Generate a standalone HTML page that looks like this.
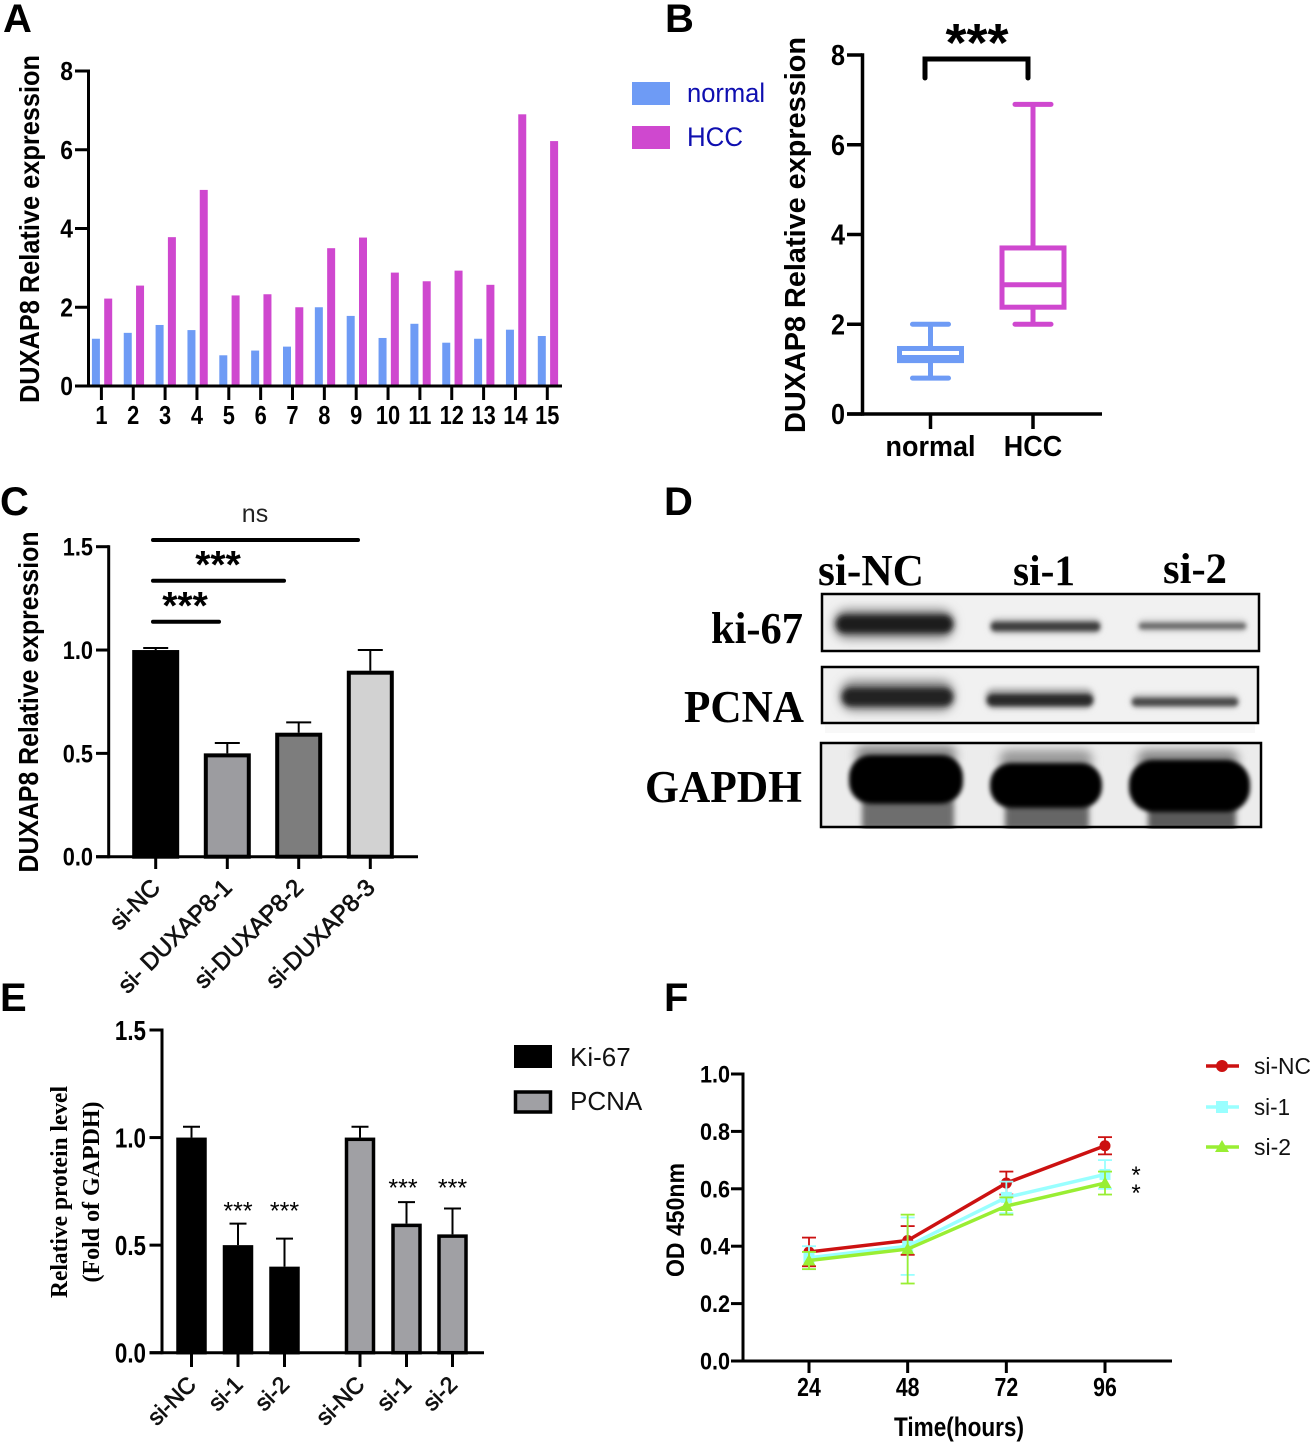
<!DOCTYPE html>
<html lang="en">
<head>
<meta charset="utf-8">
<title>DUXAP8 expression figure</title>
<style>
html,body{margin:0;padding:0;background:#fff;width:1314px;height:1442px;overflow:hidden}
svg{display:block}
text{font-family:"Liberation Sans",sans-serif}
.serif{font-family:"Liberation Serif",serif;font-weight:bold}
.panel{font-size:40px;font-weight:bold}
.ytitle{font-weight:bold}
</style>
</head>
<body>
<svg id="fig" width="1314" height="1442" viewBox="0 0 1314 1442" xmlns="http://www.w3.org/2000/svg">
<defs>
<filter id="b2" x="-20%" y="-200%" width="140%" height="500%"><feGaussianBlur stdDeviation="3"/></filter>
<filter id="b1" x="-20%" y="-200%" width="140%" height="500%"><feGaussianBlur stdDeviation="2"/></filter>
<filter id="b4" x="-20%" y="-200%" width="140%" height="500%"><feGaussianBlur stdDeviation="5"/></filter>
<clipPath id="gapdh-clip"><rect x="821" y="743" width="440" height="86"/></clipPath>
</defs>
<text class="panel" x="3" y="32">A</text>
<text class="panel" x="665" y="32">B</text>
<text class="panel" x="0" y="515">C</text>
<text class="panel" x="664" y="515">D</text>
<text class="panel" x="0" y="1011">E</text>
<text class="panel" x="664" y="1011">F</text>

<text class="ytitle" font-size="28" text-anchor="middle" transform="translate(39,229) rotate(-90)" textLength="348" lengthAdjust="spacingAndGlyphs">DUXAP8 Relative expression</text>
<text class="ytitle" font-size="29" text-anchor="middle" transform="translate(805,235) rotate(-90)" textLength="396" lengthAdjust="spacingAndGlyphs">DUXAP8 Relative expression</text>
<text class="ytitle" font-size="28" text-anchor="middle" transform="translate(38,702) rotate(-90)" textLength="341" lengthAdjust="spacingAndGlyphs">DUXAP8 Relative expression</text>
<text class="serif" font-size="24" text-anchor="middle" transform="translate(67,1192) rotate(-90)" textLength="212" lengthAdjust="spacingAndGlyphs">Relative protein level</text>
<text class="serif" font-size="24" text-anchor="middle" transform="translate(99,1192) rotate(-90)" textLength="181" lengthAdjust="spacingAndGlyphs">(Fold of GAPDH)</text>
<text class="ytitle" font-size="25" text-anchor="middle" transform="translate(684,1220) rotate(-90)" textLength="114" lengthAdjust="spacingAndGlyphs">OD 450nm</text>
<text class="ytitle" font-size="27" text-anchor="middle" x="959" y="1436" textLength="130" lengthAdjust="spacingAndGlyphs">Time(hours)</text>

<g>
<rect x="632" y="82" width="38" height="23" fill="#6e9bf5"/>
<text x="687" y="102" font-size="27" fill="#0f0fb0" textLength="78" lengthAdjust="spacingAndGlyphs">normal</text>
<rect x="632" y="126" width="38" height="23" fill="#cf48cf"/>
<text x="687" y="146" font-size="27" fill="#0f0fb0" textLength="56" lengthAdjust="spacingAndGlyphs">HCC</text>
</g>

<g>
<g>
<rect x="822" y="594" width="437" height="57" fill="#f1f1f1"/>
<rect x="834" y="609" width="120" height="30" rx="13" fill="#888" filter="url(#b4)"/>
<rect x="836" y="615" width="117" height="18" rx="9" fill="#1c1c1c" filter="url(#b2)"/>
<rect x="990" y="618" width="111" height="16" rx="7" fill="#bbb" filter="url(#b2)"/>
<rect x="991" y="622" width="109" height="9" rx="4" fill="#3c3c3c" filter="url(#b1)"/>
<rect x="1138" y="619" width="109" height="13" rx="6" fill="#ccc" filter="url(#b2)"/>
<rect x="1139" y="623" width="107" height="6" rx="3" fill="#666" filter="url(#b1)"/>
<rect x="822" y="594" width="437" height="57" fill="none" stroke="#000" stroke-width="2.5"/>
</g>
<g>
<rect x="825" y="725" width="430" height="8" fill="#f8f8f8"/>
<rect x="822" y="667" width="436" height="56" fill="#f1f1f1"/>
<rect x="840" y="680" width="114" height="31" rx="13" fill="#888" filter="url(#b4)"/>
<rect x="842" y="688" width="111" height="18" rx="9" fill="#222" filter="url(#b2)"/>
<rect x="985" y="688" width="109" height="21" rx="9" fill="#aaa" filter="url(#b2)"/>
<rect x="987" y="694" width="106" height="12" rx="6" fill="#2c2c2c" filter="url(#b1)"/>
<rect x="1131" y="694" width="108" height="14" rx="6" fill="#bbb" filter="url(#b2)"/>
<rect x="1132" y="698" width="106" height="8" rx="4" fill="#484848" filter="url(#b1)"/>
<rect x="822" y="667" width="436" height="56" fill="none" stroke="#000" stroke-width="2.5"/>
</g>
<g>
<rect x="821" y="743" width="440" height="84" fill="#ececec"/>
<g clip-path="url(#gapdh-clip)">
<rect x="862" y="800" width="92" height="30" fill="#6e6e6e" filter="url(#b2)"/>
<rect x="1005" y="803" width="84" height="27" fill="#666" filter="url(#b2)"/>
<rect x="1148" y="806" width="88" height="24" fill="#5a5a5a" filter="url(#b2)"/>
<rect x="856" y="745" width="100" height="22" rx="8" fill="#8a8a8a" filter="url(#b4)"/>
<rect x="1000" y="750" width="92" height="22" rx="8" fill="#999" filter="url(#b4)"/>
<rect x="1138" y="750" width="100" height="22" rx="8" fill="#888" filter="url(#b4)"/>
<rect x="849" y="755" width="114" height="49" rx="22" fill="#000" filter="url(#b1)"/>
<rect x="990" y="763" width="112" height="45" rx="21" fill="#000" filter="url(#b1)"/>
<rect x="1129" y="760" width="121" height="52" rx="24" fill="#000" filter="url(#b1)"/>
</g>
<rect x="821" y="743" width="440" height="84" fill="none" stroke="#000" stroke-width="2.5"/>
</g>
<text class="serif" x="818" y="585" font-size="44" textLength="106" lengthAdjust="spacingAndGlyphs">si-NC</text>
<text class="serif" x="1013" y="585" font-size="43" textLength="62" lengthAdjust="spacingAndGlyphs">si-1</text>
<text class="serif" x="1163" y="583" font-size="43" textLength="64" lengthAdjust="spacingAndGlyphs">si-2</text>
<text class="serif" x="711" y="643" font-size="44" textLength="92" lengthAdjust="spacingAndGlyphs">ki-67</text>
<text class="serif" x="684" y="722" font-size="45" textLength="120" lengthAdjust="spacingAndGlyphs">PCNA</text>
<text class="serif" x="645" y="802" font-size="45" textLength="157" lengthAdjust="spacingAndGlyphs">GAPDH</text>
</g>

<g>
<rect x="514" y="1045" width="38" height="23" fill="#000"/>
<text x="570" y="1066" font-size="26" fill="#111">Ki-67</text>
<rect x="515.500" y="1092" width="35" height="20" fill="#a0a0a4" stroke="#000" stroke-width="3.500"/>
<text x="570" y="1110" font-size="26" fill="#111">PCNA</text>
</g>
<g>
<line x1="1206" x2="1239" y1="1066" y2="1066" stroke="#cc1111" stroke-width="3.500"/>
<circle cx="1222" cy="1066" r="6" fill="#cc1111"/>
<text x="1254" y="1074" font-size="23" fill="#111" textLength="57" lengthAdjust="spacingAndGlyphs">si-NC</text>
<line x1="1206" x2="1239" y1="1107" y2="1107" stroke="#99ffff" stroke-width="3.500"/>
<rect x="1216" y="1101" width="12" height="12" fill="#99ffff"/>
<text x="1254" y="1115" font-size="23" fill="#111" textLength="36" lengthAdjust="spacingAndGlyphs">si-1</text>
<line x1="1206" x2="1239" y1="1147" y2="1147" stroke="#99ee33" stroke-width="3.500"/>
<polygon points="1222,1140 1229,1152 1215,1152" fill="#99ee33"/>
<text x="1254" y="1155" font-size="23" fill="#111" textLength="37" lengthAdjust="spacingAndGlyphs">si-2</text>
</g>
<g id="charts"></g>
</svg>
<script>
// Panel A
const aCategories = ['1','2','3','4','5','6','7','8','9','10','11','12','13','14','15'];
const aNormal = [1.2,1.35,1.55,1.42,0.78,0.9,1.0,2.0,1.78,1.22,1.58,1.1,1.2,1.43,1.27];
const aHCC = [2.22,2.55,3.78,4.98,2.3,2.33,2.0,3.5,3.77,2.88,2.66,2.93,2.57,6.9,6.22];
const aYTicks = [0,2,4,6,8];
// Panel B
const bCategories = ['normal','HCC'];
const bMin = [0.8,2.0];
const bQ1 = [1.19,2.38];
const bMedian = [1.26,2.88];
const bQ3 = [1.46,3.7];
const bMax = [2.0,6.9];
const bYTicks = [0,2,4,6,8];
// Panel C
const cCategories = ['si-NC','si- DUXAP8-1','si-DUXAP8-2','si-DUXAP8-3'];
const cValues = [1.0,0.5,0.6,0.9];
const cErrors = [0.01,0.05,0.05,0.1];
const cFills = ['#000000','#9c9ca0','#7d7d7d','#d2d2d2'];
const cYTicks = ['0.0','0.5','1.0','1.5'];
// Panel E
const eCategories = ['si-NC','si-1','si-2','si-NC','si-1','si-2'];
const eValues = [1.0,0.5,0.4,1.0,0.6,0.55];
const eErrors = [0.05,0.1,0.13,0.05,0.1,0.12];
const eStars = ['','***','***','','***','***'];
const eStarLevels = [0,0.62,0.62,0,0.727,0.727];
const eYTicks = ['0.0','0.5','1.0','1.5'];
// Panel F
const fTimes = [24,48,72,96];
const fSiNC = [0.38,0.42,0.62,0.75];
const fSiNCErr = [0.05,0.05,0.04,0.03];
const fSi1 = [0.36,0.40,0.57,0.65];
const fSi1Err = [0.04,0.10,0.055,0.05];
const fSi2 = [0.35,0.39,0.54,0.62];
const fSi2Err = [0.03,0.12,0.03,0.04];
const fYTicks = ['0.0','0.2','0.4','0.6','0.8','1.0'];

const NS = 'http://www.w3.org/2000/svg';
const root = document.getElementById('charts');
function mk(parent, tag, name, attrs, txt){
  const el = document.createElementNS(NS, tag);
  
  
  for (const k in attrs) el.setAttribute(k, attrs[k]);
  if (txt !== undefined) el.textContent = txt;
  parent.appendChild(el);
  return el;
}
function group(name){ return mk(root, 'g', name, {}); }
function line(p, name, x1, y1, x2, y2, color, w, cap){
  return mk(p, 'line', name, {x1:x1, y1:y1, x2:x2, y2:y2, stroke:color, 'stroke-width':w, 'stroke-linecap':cap||'butt'});
}
function label(p, name, x, y, str, size, anchor, bold, sx, fill){
  return mk(p, 'text', name, {transform:'translate('+x+','+y+') scale('+(sx||1)+',1)', 'font-size':size, 'text-anchor':anchor||'middle', 'font-weight':bold?'bold':'normal', fill:fill||'#000'}, str);
}
function rotLabel(p, name, x, y, str, size){
  return mk(p, 'text', name, {transform:'translate('+x+','+y+') rotate(-45)', 'font-size':size, 'text-anchor':'end', fill:'#111', stroke:'#111', 'stroke-width':0.7}, str);
}
function scale(d0, d1, r0, r1){ return v => r0 + (v - d0) * (r1 - r0) / (d1 - d0); }
function axes(p, prefix, x0, xL, xEnd, y0, yTop, w){
  line(p, prefix+'-y-axis', x0, yTop - w/2, x0, y0 + w/2, '#000', w);
  line(p, prefix+'-x-axis', xL, y0, xEnd, y0, '#000', w);
}

// ---- Panel A ----
(function(){
  const g = group('panel-a-bar-chart');
  const y = scale(0, 8, 386, 71);
  const x = scale(0, aCategories.length - 1, 101.4, 547.3);
  aCategories.forEach((c,i)=>{
    const cx = x(i);
    mk(g,'rect','bar-normal-'+c,{x:cx-9.5,y:y(aNormal[i]),width:8,height:y(0)-y(aNormal[i]),fill:'#6e9bf5'});
    mk(g,'rect','bar-hcc-'+c,{x:cx+2.8,y:y(aHCC[i]),width:8,height:y(0)-y(aHCC[i]),fill:'#cf48cf'});
    line(g,'x-tick-'+c,cx,386,cx,400,'#000',3);
    label(g,'x-tick-label-'+c,cx,424,c,26,'middle',true,0.84);
  });
  aYTicks.forEach(t=>{
    line(g,'y-tick-'+t,75,y(t),89,y(t),'#000',3);
    label(g,'y-tick-label-'+t,73,y(t)+9,String(t),26,'end',true,0.88);
  });
  axes(g,'a',88.5,75,562,386,71,3);
})();

// ---- Panel B ----
(function(){
  const g = group('panel-b-box-plot');
  const y = scale(0, 8, 414, 55);
  const xs = [930.5, 1033];
  const colors = ['#6e9bf5','#cf48cf'];
  bCategories.forEach((c,i)=>{
    const cx = xs[i], col = colors[i];
    line(g,'whisker-'+c,cx,y(bMax[i]),cx,y(bQ3[i]),col,5);
    line(g,'whisker-low-'+c,cx,y(bQ1[i]),cx,y(bMin[i]),col,5);
    line(g,'cap-max-'+c,cx-18,y(bMax[i]),cx+18,y(bMax[i]),col,5,'round');
    line(g,'cap-min-'+c,cx-18,y(bMin[i]),cx+18,y(bMin[i]),col,5,'round');
    mk(g,'rect','box-'+c,{x:cx-31,y:y(bQ3[i]),width:62,height:y(bQ1[i])-y(bQ3[i]),fill:'#fff',stroke:col,'stroke-width':5});
    line(g,'median-'+c,cx-31,y(bMedian[i]),cx+31,y(bMedian[i]),col,5);
    line(g,'x-tick-'+c,cx,414,cx,429,'#000',3.5);
    label(g,'x-tick-label-'+c,cx,456,c,29,'middle',true,0.93);
  });
  bYTicks.forEach(t=>{
    line(g,'y-tick-'+t,847,y(t),862,y(t),'#000',3.5);
    label(g,'y-tick-label-'+t,845,y(t)+10,String(t),29,'end',true,0.87);
  });
  axes(g,'b',862.5,847,1102,414,55,3.5);
  mk(g,'path','significance-bracket',{d:'M925 78 V59 H1028 V78',fill:'none',stroke:'#000','stroke-width':5,'stroke-linecap':'round'});
  label(g,'significance-stars',977,61,'***',54,'middle',true);
})();

// ---- Panel C ----
(function(){
  const g = group('panel-c-bar-chart');
  const y = scale(0, 1.5, 856.7, 546.7);
  const xs = [155.7, 227.3, 298.7, 370.3];
  cCategories.forEach((c,i)=>{
    const cx = xs[i], v = cValues[i], e = cErrors[i];
    line(g,'error-stem-'+i,cx,y(v),cx,y(v+e),'#000',2);
    line(g,'error-cap-'+i,cx-12.5,y(v+e),cx+12.5,y(v+e),'#000',2);
    mk(g,'rect','bar-'+i,{x:cx-21.5,y:y(v)+2,width:43,height:y(0)-y(v)-2,fill:cFills[i],stroke:'#000','stroke-width':4});
    line(g,'x-tick-'+i,cx,857,cx,869,'#000',3);
    rotLabel(g,'x-tick-label-'+i,cx+6,889,c,24);
  });
  cYTicks.forEach(t=>{
    const yy = y(parseFloat(t));
    line(g,'y-tick-'+t,96,yy,109,yy,'#000',3);
    label(g,'y-tick-label-'+t,93,yy+9,t,25,'end',true,0.87);
  });
  axes(g,'c',108.7,96,418,856.7,546.7,3);
  line(g,'sig-line-ns',153,540,358,540,'#000',4,'round');
  line(g,'sig-line-2',153,580.7,284,580.7,'#000',4,'round');
  line(g,'sig-line-1',153,621.7,219,621.7,'#000',4,'round');
  label(g,'sig-ns',255,522,'ns',25,'middle',false,1,'#222');
  label(g,'sig-stars-2',218,578,'***',39,'middle',true);
  label(g,'sig-stars-1',185,619,'***',39,'middle',true);
})();

// ---- Panel E ----
(function(){
  const g = group('panel-e-bar-chart');
  const y = scale(0, 1.5, 1352.7, 1030);
  const xs = [191.5, 238, 284.5, 360, 406.5, 452.5];
  eCategories.forEach((c,i)=>{
    const cx = xs[i], v = eValues[i], e = eErrors[i];
    const grey = i > 2;
    line(g,'error-stem-'+i,cx,y(v),cx,y(v+e),'#000',2);
    line(g,'error-cap-'+i,cx-8.5,y(v+e),cx+8.5,y(v+e),'#000',2);
    mk(g,'rect','bar-'+i,{x:cx-13.5,y:y(v)+1.75,width:27,height:y(0)-y(v)-1.75,fill:grey?'#a0a0a4':'#000',stroke:'#000','stroke-width':3.5});
    line(g,'x-tick-'+i,cx,1353,cx,1367,'#000',3);
    rotLabel(g,'x-tick-label-'+i,cx+6,1386,c,23);
    if (eStars[i]) label(g,'sig-stars-'+i,cx-(i===4?3.5:0),y(eStarLevels[i]),eStars[i],25,'middle',false);
  });
  eYTicks.forEach(t=>{
    const yy = y(parseFloat(t));
    line(g,'y-tick-'+t,149.5,yy,162,yy,'#000',3);
    label(g,'y-tick-label-'+t,146,yy+10,t,28,'end',true,0.8);
  });
  axes(g,'e',162,149.5,484,1352.7,1030,3);
})();

// ---- Panel F ----
(function(){
  const g = group('panel-f-line-chart');
  const y = scale(0, 1, 1361, 1074);
  const x = scale(24, 96, 809, 1105);
  const series = [
    {name:'si-nc',vals:fSiNC,errs:fSiNCErr,color:'#cc1111',marker:'circle'},
    {name:'si-1',vals:fSi1,errs:fSi1Err,color:'#99ffff',marker:'square'},
    {name:'si-2',vals:fSi2,errs:fSi2Err,color:'#99ee33',marker:'triangle'}
  ];
  series.forEach(s=>{
    const sg = mk(g,'g','series-'+s.name,{});
    s.vals.forEach((v,i)=>{
      const cx = x(fTimes[i]);
      line(sg,'error-stem-'+s.name+'-'+fTimes[i],cx,y(v-s.errs[i]),cx,y(v+s.errs[i]),s.color,1.8);
      line(sg,'error-cap-top-'+s.name+'-'+fTimes[i],cx-7,y(v+s.errs[i]),cx+7,y(v+s.errs[i]),s.color,1.8);
      line(sg,'error-cap-bottom-'+s.name+'-'+fTimes[i],cx-7,y(v-s.errs[i]),cx+7,y(v-s.errs[i]),s.color,1.8);
    });
    mk(sg,'polyline','line-'+s.name,{points:s.vals.map((v,i)=>x(fTimes[i])+','+y(v)).join(' '),fill:'none',stroke:s.color,'stroke-width':3.5});
    s.vals.forEach((v,i)=>{
      const cx = x(fTimes[i]), cy = y(v), n = 'marker-'+s.name+'-'+fTimes[i];
      if (s.marker==='circle') mk(sg,'circle',n,{cx:cx,cy:cy,r:5.5,fill:s.color});
      else if (s.marker==='square') mk(sg,'rect',n,{x:cx-5.5,y:cy-5.5,width:11,height:11,fill:s.color});
      else mk(sg,'polygon',n,{points:cx+','+(cy-6.5)+' '+(cx+6.5)+','+(cy+5)+' '+(cx-6.5)+','+(cy+5),fill:s.color});
    });
  });
  fTimes.forEach(t=>{
    line(g,'x-tick-'+t,x(t),1361,x(t),1373,'#000',3);
    label(g,'x-tick-label-'+t,x(t),1396,String(t),26,'middle',true,0.82);
  });
  fYTicks.forEach(t=>{
    const yy = y(parseFloat(t));
    line(g,'y-tick-'+t,731,yy,743,yy,'#000',3);
    label(g,'y-tick-label-'+t,730,yy+8.5,t,24,'end',true,0.9);
  });
  axes(g,'f',743,731,1172,1361,1074,3);
  label(g,'sig-star-si-1',1136,1183,'*',24,'middle',false);
  label(g,'sig-star-si-2',1136,1201,'*',24,'middle',false);
})();
</script>
</body>
</html>
